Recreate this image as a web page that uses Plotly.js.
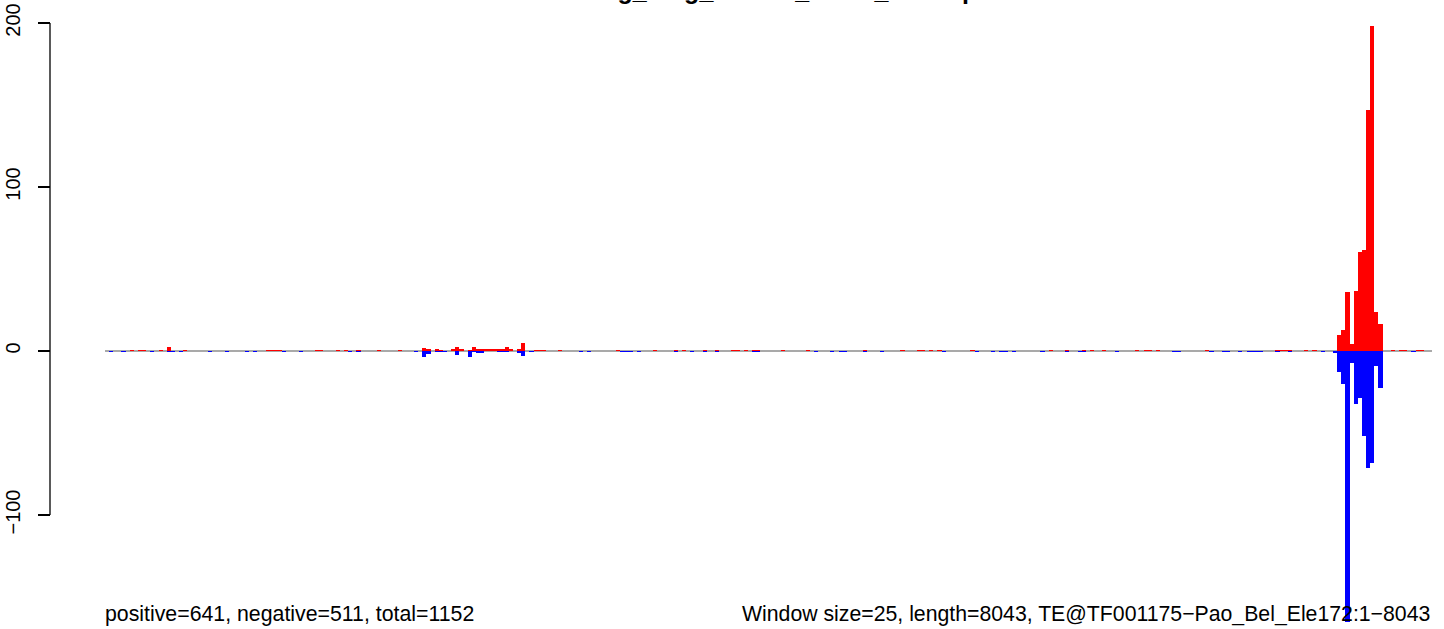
<!DOCTYPE html>
<html>
<head>
<meta charset="utf-8">
<script src="https://cdn.plot.ly/plotly-3.0.1.min.js"></script>
<style>html,body{margin:0;padding:0;background:#fff;}#chart{width:1444px;height:629px;}</style>
</head>
<body>
<div id="chart"></div>
<script>
// Window counts (window size 25 bp, 322 windows along 8043 bp)
const positiveCounts = [
  0,0,0,0,0,0,.7,0,.7,.7, 0,0,0,.7,0,2.5,0,0,0,.7,
  0,0,0,0,0,0,0,0,0,0, 0,0,0,0,0,0,0,0,0,.7,
  .7,.7,.7,0,0,0,0,0,0,0, 0,.7,.7,0,0,0,.7,0,.7,0,
  0,.7,0,0,0,0,.7,0,0,0, 0,.7,0,0,0,0,0,2,1.2,0,
  1.2,.6,0,0,1.2,2.5,1.5,0,.6,2.5, 1.2,1.2,1.5,1.5,1,1,1,2.5,1,0,
  1.2,5,0,0,.6,.6,.6,0,0,0, .7,0,0,0,0,0,0,0,0,0,
  0,0,0,0,.7,0,0,0,0,0, 0,0,0,.7,0,0,0,0,.7,0,
  .7,0,0,0,0,.7,0,0,.7,0, 0,0,.7,.7,0,.7,0,.7,.7,0,
  0,0,0,0,.7,0,0,0,0,0, .7,0,0,0,0,0,0,0,0,0,
  0,0,0,0,.7,0,0,0,0,0, 0,0,0,.7,0,0,0,.7,.7,0,
  .7,0,.7,0,0,0,0,0,0,0, .7,0,0,0,0,0,0,0,0,0,
  0,0,0,0,0,0,0,0,0,.7, 0,0,0,.7,0,0,0,.7,0,.7,
  0,0,.7,0,0,0,0,0,0,0, .7,0,.7,.7,0,.7,0,0,0,0,
  0,0,0,0,0,0,0,.7,0,0, 0,0,0,0,0,0,0,0,0,0,
  0,0,0,0,.7,.7,.7,.7,0,0, 0,.7,0,.7,0,0,0,0,0,9.8,
  13,36.2,4.4,36.9,60.1,61.4,146.7,198.3,24,16.6, 0,0,.6,0,.6,.6,0,0,.6,.6,
  0,0
];
const negativeCounts = [
  0,.7,0,0,.7,0,0,0,0,0, 0,.7,0,0,0,.7,.7,0,.7,0,
  0,0,0,0,0,.7,0,0,0,.7, 0,0,0,0,.7,0,.7,0,0,0,
  0,0,0,.7,0,0,0,.7,0,0, 0,0,0,0,0,0,0,0,0,.7,
  0,.7,0,0,0,0,0,0,0,0, 0,0,0,0,0,.7,0,3.7,1.8,0,
  .5,.5,.5,0,0,2.2,0,0,3.7,.8, 1,1,0,0,0,.6,.6,.6,0,0,
  1.2,3,0,.7,0,0,0,0,0,0, 0,0,0,0,0,.7,0,.7,0,0,
  0,0,0,0,0,.7,.7,.7,0,.7, 0,0,0,0,0,0,0,0,.7,0,
  0,0,.7,0,0,.7,0,0,.7,0, 0,0,0,0,0,0,0,.7,.7,0,
  0,0,0,0,0,0,0,0,0,0, 0,0,.7,0,0,0,.7,0,.7,.7,
  0,0,0,0,.7,0,0,0,.7,0, 0,0,0,0,0,0,0,0,0,0,
  0,0,0,.7,0,0,0,0,0,0, 0,.7,0,0,0,.7,0,.7,.7,0,
  .7,0,0,0,0,0,0,.7,0,0, 0,0,0,.7,0,0,.7,.7,0,0,
  0,0,0,0,0,.7,0,0,0,0, 0,0,0,0,0,0,0,0,0,.7,
  .7,0,0,0,0,0,0,0,.7,0, 0,.7,.7,0,0,.7,0,.7,.7,.7,
  .7,0,0,0,.7,0,0,.7,0,0, 0,0,0,0,0,.7,0,0,1.2,12.7,
  20,165,7.5,32.3,28.6,51.8,71.4,68.2,9,22.5, 0,0,0,0,0,0,0,.6,0,0,
  0,0
];
const windowIndex = positiveCounts.map((_, i) => i);
const yTickValues = [-100, 0, 100, 200];
const yTickLabels = ['\u2212100', '0', '100', '200'];
const titleText = 'sorting_long_counts_mean_overlap';
const leftNote = 'positive=641, negative=511, total=1152';
const rightNote = 'Window size=25, length=8043, TE@TF001175\u2212Pao_Bel_Ele172:1\u22128043';

const FONT = 'Liberation Sans, Arial, Helvetica, sans-serif';

const traces = [
  {type: 'bar', x: windowIndex, y: positiveCounts, width: 1,
   marker: {color: '#ff0000', line: {width: 0}}, hoverinfo: 'skip'},
  {type: 'bar', x: windowIndex, y: negativeCounts.map(v => -v), width: 1,
   marker: {color: '#0000ff', line: {width: 0}}, hoverinfo: 'skip'}
];

const layout = {
  width: 1444, height: 629,
  margin: {l: 50, r: 12, t: 15, b: 0, pad: 0},
  paper_bgcolor: '#ffffff', plot_bgcolor: '#ffffff',
  showlegend: false,
  barmode: 'overlay', bargap: 0,
  xaxis: {domain: [55/1382, 1], range: [-0.5, windowIndex.length - 0.5],
          visible: false, showgrid: false, zeroline: false, fixedrange: true},
  yaxis: {range: [-169.5, 204.9], anchor: 'free', position: 0,
          tickmode: 'array', tickvals: yTickValues, ticktext: yTickLabels,
          tickangle: -90, ticks: 'outside', ticklen: 12, tickwidth: 1.3, tickcolor: '#000',
          ticklabelstandoff: 10,
          showgrid: false, zeroline: false, showline: false,
          tickfont: {family: FONT, size: 20, color: '#000'}},
  shapes: [
    {type: 'line', xref: 'x domain', x0: 0, x1: 1, yref: 'y', y0: 0, y1: 0,
     line: {color: '#a9a9a9', width: 2}, layer: 'below'},
    {type: 'line', xref: 'paper', x0: 0, x1: 0, yref: 'y', y0: -100, y1: 200,
     line: {color: '#000', width: 1.3}}
  ],
  annotations: [
    {text: '<b>' + titleText + '</b>', xref: 'paper', yref: 'paper',
     x: (762 - 50) / 1382, y: 1 + 25 / 614, xanchor: 'center', yanchor: 'middle',
     showarrow: false, font: {family: FONT, size: 25, color: '#000'}},
    {text: leftNote, xref: 'paper', yref: 'paper', x: 53 / 1382, y: 15 / 614,
     xanchor: 'left', yanchor: 'middle', showarrow: false,
     font: {family: FONT, size: 21.3, color: '#000'}},
    {text: rightNote, xref: 'paper', yref: 'paper', x: 1, y: 15 / 614,
     xanchor: 'right', yanchor: 'middle', showarrow: false,
     font: {family: FONT, size: 21.25, color: '#000'}}
  ]
};

Plotly.newPlot('chart', traces, layout, {staticPlot: true, displayModeBar: false});
</script>
</body>
</html>
